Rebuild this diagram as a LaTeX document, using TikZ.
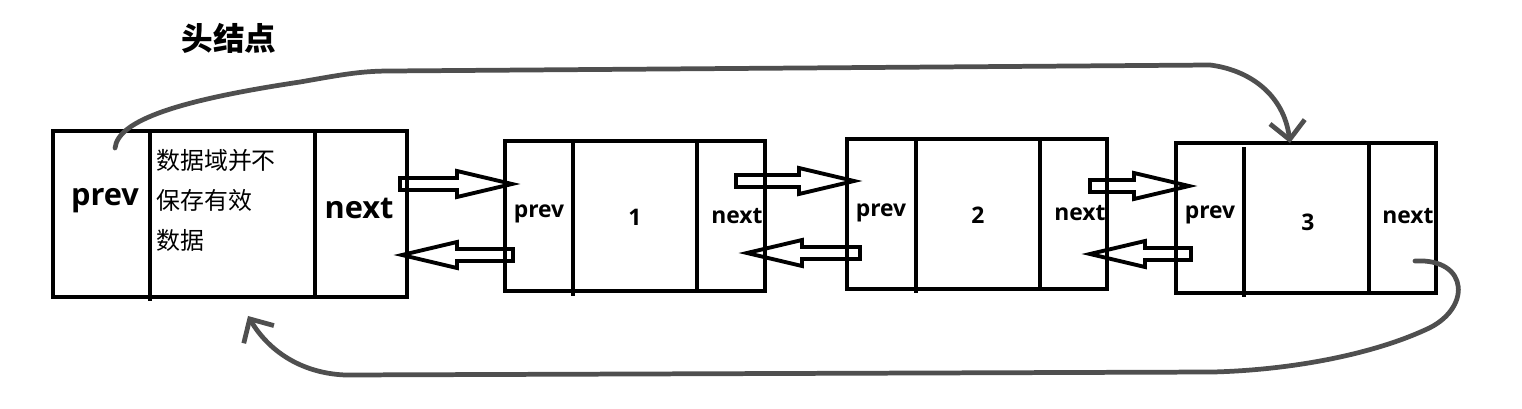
\documentclass[tikz,border=0pt]{standalone}
\usepackage{fontspec}
\setmainfont{Open Sans}
\newfontfamily\cjk{Noto Sans CJK SC}
\usetikzlibrary{calc, arrows.meta}

% hollow block arrow from tail #1 to tip #2
\newcommand{\hollowarrow}[2]{%
  \coordinate (hb) at ($(#2)!1.1cm!(#1)$);
  \draw[hollow] ($(#1)+(0,-6)$) -- ($(hb)+(0,-6)$) -- ($(hb)+(0,-13)$) -- (#2)
    -- ($(hb)+(0,13)$) -- ($(hb)+(0,6)$) -- ($(#1)+(0,6)$) -- cycle;}

\begin{document}
\begin{tikzpicture}[x=0.02cm, y=-0.02cm,
    box/.style={draw, line width=2.4pt, outer sep=0pt, inner sep=0pt},
    wall/.style={line width=2.4pt},
    hollow/.style={line width=2.2pt, line join=miter},
    txt/.style={font=\bfseries\fontsize{13}{15}\selectfont, inner sep=0pt, anchor=base},
    bigtxt/.style={font=\bfseries\fontsize{17.5}{20}\selectfont, inner sep=0pt, anchor=base},
    loopline/.style={black!69, line width=2.7pt, line cap=round,
      -{Straight Barb[length=0.36cm, width=0.7cm]}}]
  \useasboundingbox (0,0) rectangle (1522,409);

  % head node
  \node[font=\cjk\bfseries\fontsize{18}{20}\selectfont] (title) at (229,38) {头结点};
  \node[box, minimum width=7.08cm, minimum height=3.32cm] (h) at (230,214) {};
  \draw[wall] (150,131) -- (150,301);
  \draw[wall] (315,131) -- (315,297);
  \node[bigtxt] (hprev) at (105,205) {prev};
  \node[bigtxt] (hnext) at (359,218) {next};
  \node[font=\cjk\fontsize{13.6}{22.7}\selectfont, align=left, inner sep=0pt,
    anchor=north west] (hdata) at (156,149) {数据域并不\\保存有效\\数据};

  % node 1
  \node[box, minimum width=5.2cm, minimum height=3cm] (n1) at (635,216) {};
  \draw[wall] (573,142) -- (573,296);
  \draw[wall] (697,141) -- (697,291);
  \node[txt] (n1prev) at (539,217) {prev};
  \node[txt] (n1val) at (635,225) {1};
  \node[txt] (n1next) at (737,223) {next};

  % node 2
  \node[box, minimum width=5.2cm, minimum height=3cm] (n2) at (977,214) {};
  \draw[wall] (916,140) -- (916,293);
  \draw[wall] (1040,139) -- (1040,289);
  \node[txt] (n2prev) at (881,216) {prev};
  \node[txt] (n2val) at (978,223) {2};
  \node[txt] (n2next) at (1080,220) {next};

  % node 3
  \node[box, minimum width=5.2cm, minimum height=3cm] (n3) at (1306,218) {};
  \draw[wall] (1244,147) -- (1244,297);
  \draw[wall] (1369,143) -- (1369,293);
  \node[txt] (n3prev) at (1210,218) {prev};
  \node[txt] (n3val) at (1308,230) {3};
  \node[txt] (n3next) at (1408,223) {next};

  % next / prev links
  \coordinate (a1) at ($(h.east)+(-7,-30)$);
  \coordinate (b1) at ($(a1 -| n1.west)+(7,0)$);
  \hollowarrow{a1}{b1}
  \coordinate (a2) at ($(n1.west)+(8,39)$);
  \coordinate (b2) at ($(a2 -| h.east)+(-5,0)$);
  \hollowarrow{a2}{b2}
  \coordinate (a3) at ($(n1.east)+(-29,-35)$);
  \coordinate (b3) at ($(a3 -| n2.west)+(7,0)$);
  \hollowarrow{a3}{b3}
  \coordinate (a4) at ($(n2.west)+(13,39)$);
  \coordinate (b4) at ($(a4 -| n1.east)+(-18,0)$);
  \hollowarrow{a4}{b4}
  \coordinate (a5) at ($(n2.east)+(-17,-28)$);
  \coordinate (b5) at ($(a5 -| n3.west)+(13,0)$);
  \hollowarrow{a5}{b5}
  \coordinate (a6) at ($(n3.west)+(15,36)$);
  \coordinate (b6) at ($(a6 -| n2.east)+(-17,0)$);
  \hollowarrow{a6}{b6}

  % circular links
  \coordinate (ps) at ($(h.north west)+(62,17)$);
  \draw[loopline] (ps) .. controls (118,120) and (180,100) .. (300,82)
    .. controls (340,75) and (360,71) .. (390,71) -- (1210,65)
    .. controls (1250,70) and (1284,95) .. ($(n3.north)+(-16,0)$);
  \coordinate (ns) at ($(n3.east)+(-21,43)$);
  \draw[loopline] (ns) .. controls (1470,258) and (1472,310) .. (1425,330)
    .. controls (1370,355) and (1290,370) .. (1213,372) -- (345,375)
    .. controls (300,373) and (268,350) .. ($(h.south)+(18,19)$);
\end{tikzpicture}
\end{document}
